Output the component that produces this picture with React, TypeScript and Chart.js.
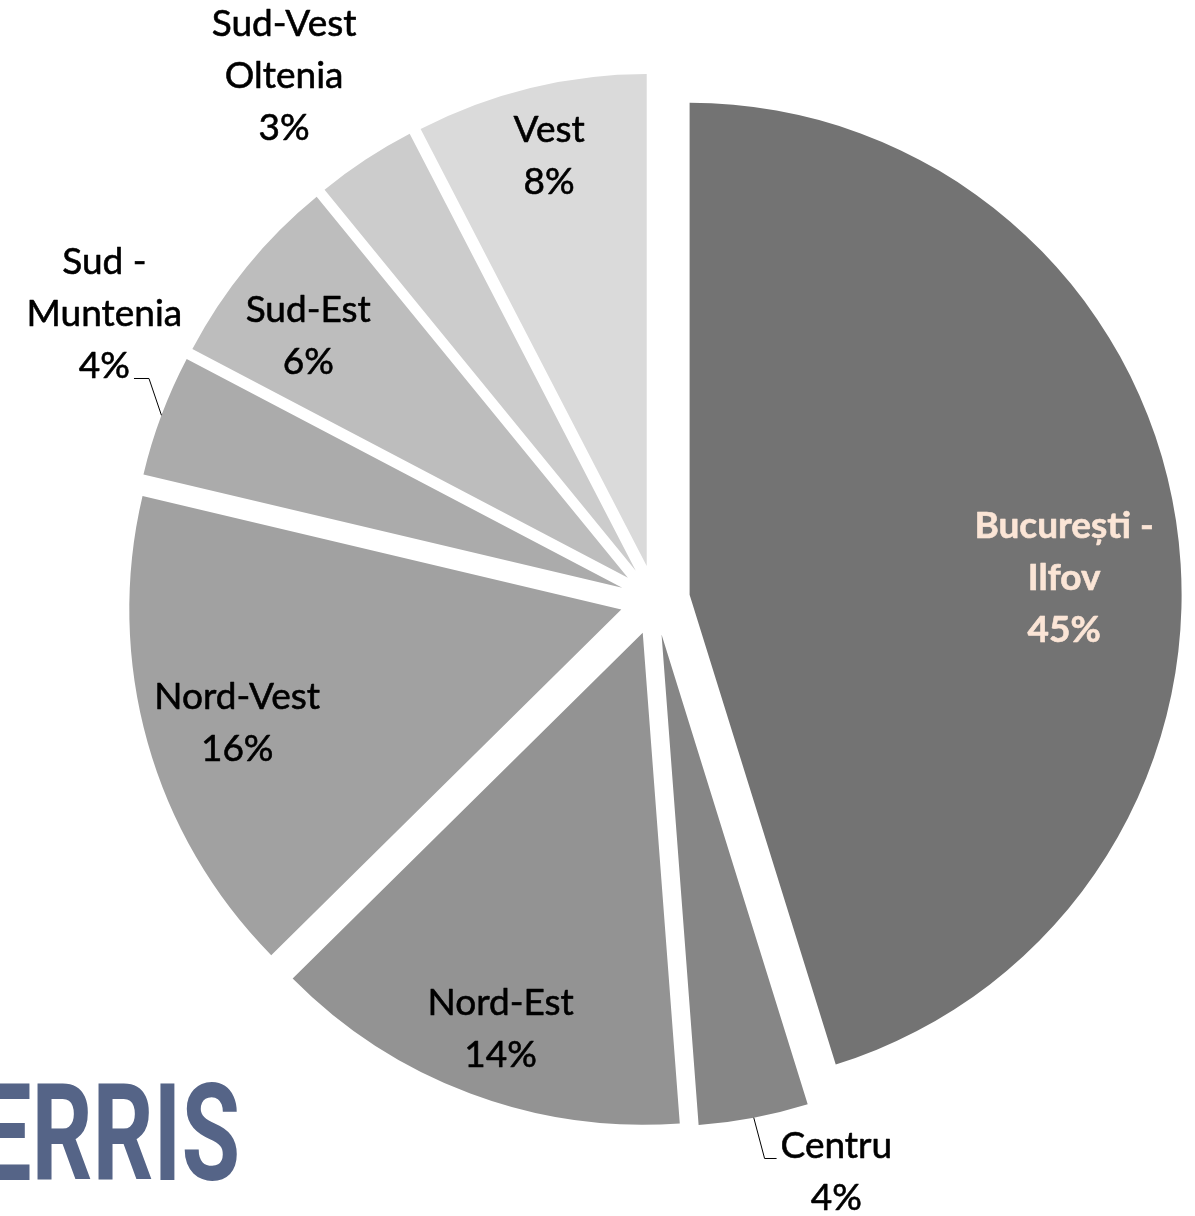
import React, { useEffect, useRef } from 'react';
import { Chart, registerables, ArcElement } from 'chart.js';

Chart.register(...registerables);

// ---- data (shares in %) ----
const regions = [
  'București - Ilfov',
  'Centru',
  'Nord-Est',
  'Nord-Vest',
  'Sud - Muntenia',
  'Sud-Est',
  'Sud-Vest Oltenia',
  'Vest',
];
const shares = [45.2, 3.6, 13.8, 16.1, 4.0, 6.4, 3.3, 7.6];
const labelLines = [
  ['București -', 'Ilfov'],
  ['Centru'],
  ['Nord-Est'],
  ['Nord-Vest'],
  ['Sud -', 'Muntenia'],
  ['Sud-Est'],
  ['Sud-Vest', 'Oltenia'],
  ['Vest'],
];

// ---- styles ----
const sliceColors = ['#737373', '#868686', '#939393', '#a1a1a1', '#ababab', '#bdbdbd', '#cccccc', '#dadada'];
const labelColors = ['#fbe5d6', '#000', '#000', '#000', '#000', '#000', '#000', '#000'];
const labelBold = [true, false, false, false, false, false, false, false];
const EXPLODE = 35;
const PIE_RADIUS = 492;
const LABEL_FAMILY = 'Lato, "Open Sans", sans-serif';
const LABEL_SIZE = 37;
const LINE_H = 52;
// label placement: radial fraction of the radius, angle shift (deg) from slice mid-angle
const labelRadial = [0.762, 1.15, 0.856, 0.814, 1.19, 0.815, 1.234, 0.857];
const labelAngleShift = [6.1, -7.2, -0.8, -0.8, 7.3, -2.1, -2.1, 0.3];
const leaders: ({ line: number; side: 'left' | 'right' } | null)[] = [
  null,
  { line: 0, side: 'left' },
  null,
  null,
  { line: 2, side: 'right' },
  null,
  null,
  null,
];
const LOGO_TEXT = 'ERRIS';
const LOGO_COLOR = '#556487';

const explodePlugin = {
  id: 'explodeSlices',
  afterDatasetUpdate(chart: any, args: any) {
    const meta = chart.getDatasetMeta(args.index);
    meta.data.forEach((el: any) => {
      if (el.__exploded) return;
      el.__exploded = true;
      el.draw = function (ctx: CanvasRenderingContext2D) {
        const half = (this.startAngle + this.endAngle) / 2;
        ctx.save();
        ctx.translate(Math.cos(half) * EXPLODE, Math.sin(half) * EXPLODE);
        (ArcElement.prototype as any).draw.call(this, ctx);
        ctx.restore();
      };
    });
  },
};

const labelPlugin = {
  id: 'sliceLabels',
  afterDatasetsDraw(chart: any) {
    const ctx: CanvasRenderingContext2D = chart.ctx;
    const meta = chart.getDatasetMeta(0);
    const data: number[] = chart.data.datasets[0].data;
    const total = data.reduce((a, b) => a + b, 0);
    meta.data.forEach((arc: any, i: number) => {
      const { x, y, startAngle, endAngle, outerRadius } = arc.getProps(
        ['x', 'y', 'startAngle', 'endAngle', 'outerRadius'],
        true
      );
      const half = (startAngle + endAngle) / 2;
      const ax = x + Math.cos(half) * EXPLODE;
      const ay = y + Math.sin(half) * EXPLODE;
      const la = half + (labelAngleShift[i] * Math.PI) / 180;
      const lx = ax + Math.cos(la) * outerRadius * labelRadial[i];
      const ly = ay + Math.sin(la) * outerRadius * labelRadial[i];
      const pct = Math.round((data[i] / total) * 100);
      const lines = [...labelLines[i], pct + '%'];
      const top = ly - ((lines.length - 1) * LINE_H) / 2;
      ctx.save();
      ctx.font = `${labelBold[i] ? 'bold ' : ''}${LABEL_SIZE}px ${LABEL_FAMILY}`;
      ctx.fillStyle = labelColors[i];
      ctx.strokeStyle = labelColors[i];
      ctx.lineWidth = 0.6;
      ctx.lineJoin = 'round';
      ctx.textAlign = 'center';
      ctx.textBaseline = 'middle';
      lines.forEach((t, k) => {
        ctx.fillText(t, lx, top + k * LINE_H);
        ctx.strokeText(t, lx, top + k * LINE_H);
      });
      const ld = leaders[i];
      if (ld) {
        const w = ctx.measureText(lines[ld.line]).width;
        const yy = top + ld.line * LINE_H + 12;
        const attachX = ld.side === 'left' ? lx - w / 2 - 4 : lx + w / 2 + 4;
        const elbowX = ld.side === 'left' ? attachX - 12 : attachX + 15;
        const ex = ax + Math.cos(half) * outerRadius;
        const ey = ay + Math.sin(half) * outerRadius;
        ctx.beginPath();
        ctx.moveTo(ex, ey);
        ctx.lineTo(elbowX, yy);
        ctx.lineTo(attachX, yy);
        ctx.strokeStyle = '#000';
        ctx.lineWidth = 1;
        ctx.stroke();
      }
      ctx.restore();
    });
  },
  afterDraw(chart: any) {
    const ctx: CanvasRenderingContext2D = chart.ctx;
    ctx.save();
    ctx.font = 'bold 136px Roboto, "DejaVu Sans", sans-serif';
    ctx.fillStyle = LOGO_COLOR;
    ctx.textBaseline = 'alphabetic';
    ctx.textAlign = 'left';
    const w = ctx.measureText(LOGO_TEXT).width;
    ctx.translate(-22, 1180);
    ctx.scale(262 / w, 1);
    ctx.fillText(LOGO_TEXT, 0, 0);
    ctx.restore();
  },
};

export default function App() {
  const ref = useRef<HTMLCanvasElement>(null);
  useEffect(() => {
    const chart = new Chart(ref.current as HTMLCanvasElement, {
      type: 'pie',
      data: {
        labels: regions,
        datasets: [
          {
            data: shares,
            backgroundColor: sliceColors,
            borderWidth: 0,
            radius: PIE_RADIUS,
          } as any,
        ],
      },
      options: {
        responsive: false,
        animation: false,
        events: [],
        layout: { padding: { left: 115, right: 0, top: 0, bottom: 16 } },
        plugins: { legend: { display: false }, tooltip: { enabled: false } },
      },
      plugins: [explodePlugin, labelPlugin],
    });
    return () => chart.destroy();
  }, []);
  return (
    <div style={{ position: 'absolute', left: 0, top: 0, width: 1195, height: 1216, background: '#fff' }}>
      <canvas ref={ref} width={1195} height={1216} style={{ display: 'block' }} />
    </div>
  );
}
